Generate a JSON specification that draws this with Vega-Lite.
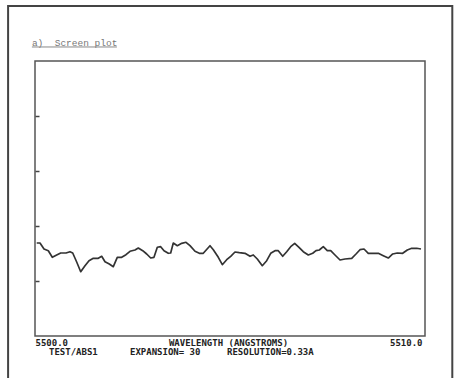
{
  "$schema": "https://vega.github.io/schema/vega-lite/v6.json",
  "autosize": "none",
  "width": 390,
  "height": 275,
  "padding": {"left": 35, "top": 61, "right": 38, "bottom": 42},
  "background": "white",
  "config": {"view": {"stroke": "#555", "strokeWidth": 1.5}},
  "layer": [
    {
      "data": {"values": [
        {"w": 5500.044, "v": 1.691}, {"w": 5500.128, "v": 1.691}, {"w": 5500.231, "v": 1.582}, {"w": 5500.341, "v": 1.551},
        {"w": 5500.444, "v": 1.431}, {"w": 5500.556, "v": 1.473}, {"w": 5500.659, "v": 1.509}, {"w": 5500.795, "v": 1.509},
        {"w": 5500.897, "v": 1.533}, {"w": 5500.967, "v": 1.509}, {"w": 5501.069, "v": 1.345}, {"w": 5501.172, "v": 1.169},
        {"w": 5501.282, "v": 1.278}, {"w": 5501.385, "v": 1.369}, {"w": 5501.495, "v": 1.413}, {"w": 5501.623, "v": 1.413},
        {"w": 5501.710, "v": 1.449}, {"w": 5501.795, "v": 1.351}, {"w": 5501.905, "v": 1.309}, {"w": 5502.008, "v": 1.260},
        {"w": 5502.110, "v": 1.431}, {"w": 5502.223, "v": 1.431}, {"w": 5502.333, "v": 1.478}, {"w": 5502.436, "v": 1.540},
        {"w": 5502.564, "v": 1.564}, {"w": 5502.649, "v": 1.600}, {"w": 5502.762, "v": 1.551}, {"w": 5502.864, "v": 1.491},
        {"w": 5502.967, "v": 1.418}, {"w": 5503.051, "v": 1.431}, {"w": 5503.136, "v": 1.613}, {"w": 5503.223, "v": 1.624},
        {"w": 5503.308, "v": 1.551}, {"w": 5503.418, "v": 1.504}, {"w": 5503.479, "v": 1.509}, {"w": 5503.546, "v": 1.691},
        {"w": 5503.649, "v": 1.642}, {"w": 5503.762, "v": 1.685}, {"w": 5503.872, "v": 1.704}, {"w": 5503.974, "v": 1.642},
        {"w": 5504.103, "v": 1.540}, {"w": 5504.213, "v": 1.504}, {"w": 5504.315, "v": 1.504}, {"w": 5504.487, "v": 1.642},
        {"w": 5504.572, "v": 1.569}, {"w": 5504.700, "v": 1.431}, {"w": 5504.803, "v": 1.296}, {"w": 5504.915, "v": 1.387},
        {"w": 5505.018, "v": 1.449}, {"w": 5505.128, "v": 1.527}, {"w": 5505.238, "v": 1.515}, {"w": 5505.385, "v": 1.504},
        {"w": 5505.513, "v": 1.449}, {"w": 5505.597, "v": 1.473}, {"w": 5505.700, "v": 1.400}, {"w": 5505.828, "v": 1.278},
        {"w": 5505.941, "v": 1.369}, {"w": 5506.044, "v": 1.504}, {"w": 5506.154, "v": 1.551}, {"w": 5506.238, "v": 1.551},
        {"w": 5506.351, "v": 1.449}, {"w": 5506.454, "v": 1.533}, {"w": 5506.556, "v": 1.624}, {"w": 5506.659, "v": 1.685},
        {"w": 5506.769, "v": 1.613}, {"w": 5506.879, "v": 1.533}, {"w": 5507.008, "v": 1.473}, {"w": 5507.121, "v": 1.504},
        {"w": 5507.205, "v": 1.551}, {"w": 5507.290, "v": 1.564}, {"w": 5507.392, "v": 1.624}, {"w": 5507.495, "v": 1.551},
        {"w": 5507.582, "v": 1.551}, {"w": 5507.692, "v": 1.473}, {"w": 5507.821, "v": 1.382}, {"w": 5507.949, "v": 1.400},
        {"w": 5508.121, "v": 1.413}, {"w": 5508.231, "v": 1.491}, {"w": 5508.333, "v": 1.569}, {"w": 5508.436, "v": 1.582},
        {"w": 5508.546, "v": 1.504}, {"w": 5508.674, "v": 1.504}, {"w": 5508.803, "v": 1.504}, {"w": 5508.931, "v": 1.460},
        {"w": 5509.059, "v": 1.418}, {"w": 5509.172, "v": 1.491}, {"w": 5509.290, "v": 1.509}, {"w": 5509.428, "v": 1.504},
        {"w": 5509.546, "v": 1.564}, {"w": 5509.659, "v": 1.595}, {"w": 5509.787, "v": 1.595}, {"w": 5509.897, "v": 1.582}
      ]},
      "mark": {"type": "line", "color": "#333", "strokeWidth": 1.7, "strokeJoin": "round"},
      "encoding": {
        "x": {"field": "w", "type": "quantitative",
          "scale": {"domain": [5500, 5510], "nice": false, "zero": false},
          "axis": {
            "values": [5500, 5510],
            "labelExpr": "format(datum.value, '.1f')",
            "labelAlign": {"expr": "datum.value < 5505 ? 'left' : 'right'"},
            "labelOffset": {"expr": "datum.value < 5505 ? 0 : -3"},
            "labelFont": "DejaVu Sans Mono", "labelFontWeight": "bold", "labelFontSize": 9, "labelColor": "#222",
            "labelBaseline": "middle", "labelPadding": 6,
            "ticks": false, "domain": false, "grid": false,
            "title": "WAVELENGTH (ANGSTROMS)",
            "titleFont": "DejaVu Sans Mono", "titleFontWeight": "bold", "titleFontSize": 9, "titleColor": "#222",
            "titleX": 193, "titleY": 6, "titleBaseline": "middle", "titleAlign": "center", "titleAnchor": null
          }
        },
        "y": {"field": "v", "type": "quantitative",
          "scale": {"domain": [0, 5], "nice": false, "zero": false},
          "axis": {"values": [1, 2, 3, 4], "labels": false, "domain": false, "grid": false,
            "tickSize": -4, "tickColor": "#444", "tickWidth": 1.5, "title": null}
        }
      }
    },
    {
      "data": {"values": [{}]},
      "mark": {"type": "rect", "fill": "transparent", "stroke": "#444", "strokeWidth": 2, "clip": false},
      "encoding": {
        "x": {"datum": 5499.31, "type": "quantitative"},
        "x2": {"datum": 5510.7},
        "y": {"datum": 6.0, "type": "quantitative"},
        "y2": {"datum": -1.0}
      }
    },
    {
      "data": {"values": [{}]},
      "mark": {"type": "text", "align": "left", "baseline": "middle", "font": "Liberation Mono", "fontSize": 9.5, "color": "#777", "clip": false},
      "encoding": {
        "x": {"datum": 5499.92, "type": "quantitative"},
        "y": {"datum": 5.33, "type": "quantitative"},
        "text": {"value": "a)\u00a0\u00a0Screen plot"}
      }
    },
    {
      "data": {"values": [{}]},
      "mark": {"type": "rule", "color": "#888", "strokeWidth": 1, "clip": false},
      "encoding": {
        "x": {"datum": 5499.92, "type": "quantitative"},
        "x2": {"datum": 5502.1},
        "y": {"datum": 5.255, "type": "quantitative"}
      }
    },
    {
      "data": {"values": [{}]},
      "mark": {"type": "text", "align": "left", "baseline": "middle", "font": "DejaVu Sans Mono", "fontWeight": "bold", "fontSize": 9, "color": "#222", "clip": false},
      "encoding": {
        "x": {"datum": 5500.359, "type": "quantitative"},
        "y": {"datum": -0.29, "type": "quantitative"},
        "text": {"value": "TEST/ABS1"}
      }
    },
    {
      "data": {"values": [{}]},
      "mark": {"type": "text", "align": "left", "baseline": "middle", "font": "DejaVu Sans Mono", "fontWeight": "bold", "fontSize": 9, "color": "#222", "clip": false},
      "encoding": {
        "x": {"datum": 5502.436, "type": "quantitative"},
        "y": {"datum": -0.29, "type": "quantitative"},
        "text": {"value": "EXPANSION= 30"}
      }
    },
    {
      "data": {"values": [{}]},
      "mark": {"type": "text", "align": "left", "baseline": "middle", "font": "DejaVu Sans Mono", "fontWeight": "bold", "fontSize": 9, "color": "#222", "clip": false},
      "encoding": {
        "x": {"datum": 5504.923, "type": "quantitative"},
        "y": {"datum": -0.29, "type": "quantitative"},
        "text": {"value": "RESOLUTION=0.33A"}
      }
    }
  ]
}
